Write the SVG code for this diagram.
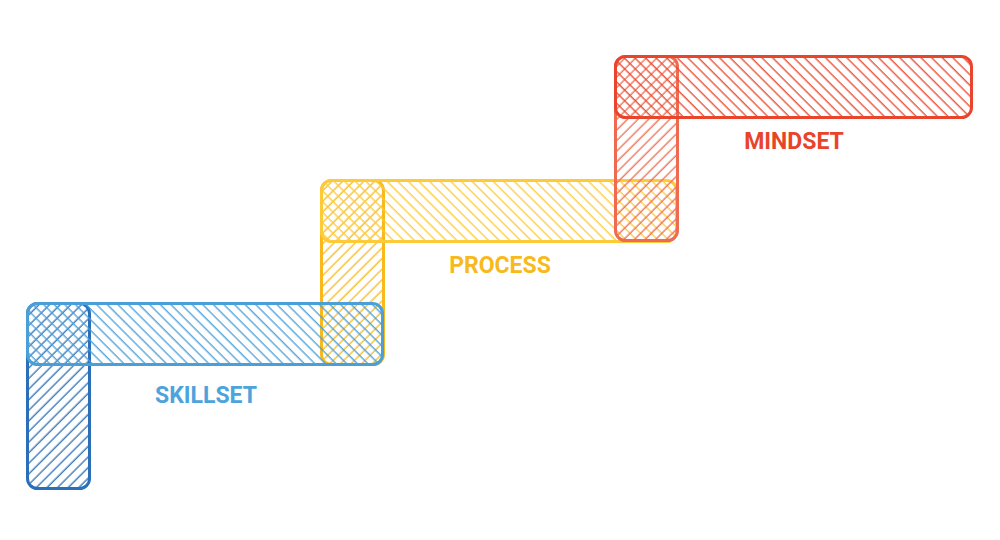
<svg xmlns="http://www.w3.org/2000/svg" width="1000" height="540" viewBox="0 0 1000 540">
<style>
.bar{stroke-width:3}
.lbl{font-family:Roboto,"Liberation Sans",sans-serif;font-weight:bold;font-size:23px;text-anchor:middle}
</style>
<defs>
<pattern id="hBlue" width="7.5" height="7.5" patternUnits="userSpaceOnUse" patternTransform="rotate(-45)"><line x1="3" y1="0" x2="3" y2="7.5" stroke="#4a9fd8" stroke-width="1.3"/></pattern>
<pattern id="vBlue" width="7.5" height="7.5" patternUnits="userSpaceOnUse" patternTransform="rotate(45)"><line x1="3" y1="0" x2="3" y2="7.5" stroke="#2b6fb8" stroke-width="1.3"/></pattern>
<pattern id="hYel" width="7.5" height="7.5" patternUnits="userSpaceOnUse" patternTransform="rotate(-45)"><line x1="3" y1="0" x2="3" y2="7.5" stroke="#fdca38" stroke-width="1.3"/></pattern>
<pattern id="vYel" width="7.5" height="7.5" patternUnits="userSpaceOnUse" patternTransform="rotate(45)"><line x1="3" y1="0" x2="3" y2="7.5" stroke="#f9b91c" stroke-width="1.3"/></pattern>
<pattern id="hRed" width="7.5" height="7.5" patternUnits="userSpaceOnUse" patternTransform="rotate(-45)"><line x1="3" y1="0" x2="3" y2="7.5" stroke="#e8462c" stroke-width="1.3"/></pattern>
<pattern id="vRed" width="7.5" height="7.5" patternUnits="userSpaceOnUse" patternTransform="rotate(45)"><line x1="3" y1="0" x2="3" y2="7.5" stroke="#ee6b52" stroke-width="1.3"/></pattern>
</defs>
<g id="skillset-vertical"><rect class="bar" x="27.5" y="303.5" width="62" height="185" rx="10" fill="url(#vBlue)" stroke="#2b6fb8"/></g>
<g id="process-vertical"><rect class="bar" x="321.5" y="180.5" width="62" height="184" rx="10" fill="url(#vYel)" stroke="#f9b91c"/></g>
<g id="skillset-horizontal"><rect class="bar" x="27.5" y="303.5" width="355" height="61" rx="10" fill="url(#hBlue)" stroke="#4a9fd8"/></g>
<g id="process-horizontal"><rect class="bar" x="321.5" y="180.5" width="355" height="61" rx="10" fill="url(#hYel)" stroke="#fdca38"/></g>
<g id="mindset-vertical"><rect class="bar" x="615.5" y="56.5" width="62" height="184" rx="10" fill="url(#vRed)" stroke="#ee6b52"/></g>
<g id="mindset-horizontal"><rect class="bar" x="615.5" y="56.5" width="356" height="61" rx="10" fill="url(#hRed)" stroke="#e8462c"/></g>
<g id="labels">
<text class="lbl" x="206" y="403" fill="#4da3dc">SKILLSET</text>
<text class="lbl" x="500" y="273" fill="#f7b91c">PROCESS</text>
<text class="lbl" x="794" y="149" fill="#e8442a">MINDSET</text>
</g>
<g id="connectors"/>
</svg>
